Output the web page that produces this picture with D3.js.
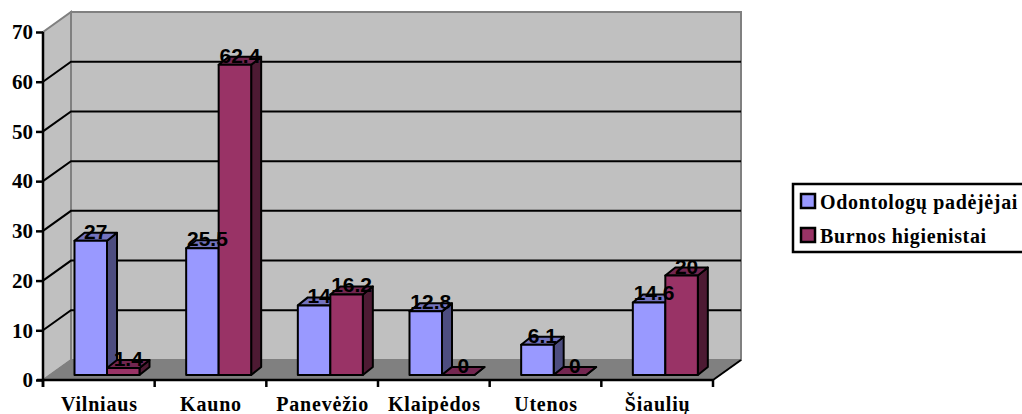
<!DOCTYPE html>
<html>
<head>
<meta charset="utf-8">
<script src="https://cdn.jsdelivr.net/npm/d3@7/dist/d3.min.js"></script>
<style>
html,body{margin:0;padding:0;background:#fff;overflow:hidden}
svg{display:block}
.serif{font-family:"Liberation Serif",serif;font-weight:bold}
.sans{font-family:"Liberation Sans",sans-serif;font-weight:bold}
</style>
</head>
<body>
<svg id="chart" width="1022" height="414"></svg>
<script>
const regions = ["Vilniaus","Kauno","Panevėžio","Klaipėdos","Utenos","Šiaulių"];
const assistants = [27,25.5,14,12.8,6.1,14.6];
const hygienists = [1.4,62.4,16.2,0,0,20];
const seriesNames = ["Odontologų padėjėjai","Burnos higienistai"];
const yTicks = [0,10,20,30,40,50,60,70];

const seriesColors = [
  {front:"#9999ff",top:"#7373bf",side:"#4d4d80"},
  {front:"#993366",top:"#732650",side:"#4d1a33"}
];

const svg = d3.select("#chart");
const plot = {left:43,right:713,bottom:380,top:32,dx:28,dy:-20};
const y = d3.scaleLinear().domain([0,70]).range([plot.bottom,plot.top]);
const x = d3.scaleBand().domain(regions).range([plot.left,plot.right]);
const barW = 32.5;
const depth = {start:[5,-5],end:[15,-13]};  // where bars sit inside the floor depth
const poly = pts => pts.map(p=>p.join(",")).join(" ");

// walls and floor
svg.append("polygon").attr("points",poly([[plot.left,plot.top],[plot.left+plot.dx,plot.top+plot.dy],[plot.left+plot.dx,plot.bottom+plot.dy],[plot.left,plot.bottom]]))
  .attr("fill","#c0c0c0").attr("stroke","#808080").attr("stroke-width",2);
svg.append("rect").attr("x",plot.left+plot.dx).attr("y",plot.top+plot.dy).attr("width",plot.right-plot.left).attr("height",plot.bottom-plot.top)
  .attr("fill","#c0c0c0").attr("stroke","#808080").attr("stroke-width",2);
svg.append("polygon").attr("points",poly([[plot.left,plot.bottom],[plot.left+plot.dx,plot.bottom+plot.dy],[plot.right+plot.dx,plot.bottom+plot.dy],[plot.right,plot.bottom]]))
  .attr("fill","#808080").attr("stroke","#808080");

// gridlines on both walls
yTicks.filter(t=>t>0 && t<70).forEach(t=>{
  const py=y(t);
  svg.append("polyline").attr("points",poly([[plot.left,py],[plot.left+plot.dx,py+plot.dy],[plot.right+plot.dx,py+plot.dy]]))
    .attr("fill","none").attr("stroke","#000").attr("stroke-width",2);
});
svg.append("line").attr("x1",plot.left).attr("y1",plot.bottom).attr("x2",plot.left+plot.dx).attr("y2",plot.bottom+plot.dy).attr("stroke","#808080").attr("stroke-width",1);

// bars
const labels=[];
regions.forEach((r,i)=>{
  [assistants[i],hygienists[i]].forEach((v,s)=>{
    const c=seriesColors[s];
    const x0=x(r)+31.5+s*barW, x1=x0+barW;
    const dx=depth.end[0]-depth.start[0], dy=depth.end[1]-depth.start[1];
    const yb=y(0)+depth.start[1], yt=y(v)+depth.start[1];
    const g=svg.append("g").attr("stroke","#000").attr("stroke-width",2).attr("stroke-linejoin","round");
    g.append("polygon").attr("points",poly([[x1,yt],[x1+dx,yt+dy],[x1+dx,yb+dy],[x1,yb]])).attr("fill",c.side);
    g.append("polygon").attr("points",poly([[x0,yt],[x0+dx,yt+dy],[x1+dx,yt+dy],[x1,yt]])).attr("fill",c.top);
    g.append("rect").attr("x",x0).attr("y",yt).attr("width",barW).attr("height",yb-yt).attr("fill",c.front);
    labels.push({v,x:(x0+x1)/2+dx/2,y:yt-2});
  });
});

// axes in front
svg.append("line").attr("x1",plot.left).attr("x2",plot.left).attr("y1",plot.top).attr("y2",plot.bottom+7).attr("stroke","#000").attr("stroke-width",2.5);
svg.append("line").attr("x1",plot.left-6).attr("x2",plot.right).attr("y1",plot.bottom).attr("y2",plot.bottom).attr("stroke","#000").attr("stroke-width",2.5);
svg.append("line").attr("x1",plot.right).attr("y1",plot.bottom).attr("x2",plot.right+plot.dx).attr("y2",plot.bottom+plot.dy).attr("stroke","#000").attr("stroke-width",2);

const yAxis=d3.axisLeft(y).tickValues(yTicks).tickSize(7).tickPadding(3);
const ya=svg.append("g").attr("transform",`translate(${plot.left},0)`).call(yAxis);
ya.select(".domain").remove();
ya.selectAll("line").attr("stroke","#000").attr("stroke-width",2.5);
ya.selectAll("text").attr("class","serif").attr("font-size",21).attr("fill","#000").attr("font-family",null);

// category ticks fall on band edges
regions.concat([null]).forEach((r,i)=>{
  const tx=r?x(r):plot.right;
  svg.append("line").attr("x1",tx).attr("x2",tx).attr("y1",plot.bottom).attr("y2",plot.bottom+7).attr("stroke","#000").attr("stroke-width",2.5);
});
svg.append("g").selectAll("text").data(regions).join("text").attr("class","serif")
  .attr("x",d=>x(d)+x.bandwidth()/2+0.5).attr("y",411).attr("text-anchor","middle").attr("font-size",20).attr("letter-spacing",0.8).attr("fill","#000").text(d=>d);

// value labels
svg.append("g").selectAll("text").data(labels).join("text").attr("class","sans")
  .attr("x",d=>d.x).attr("y",d=>d.y).attr("text-anchor","middle").attr("font-size",21).attr("fill","#000").text(d=>d.v);

// legend
const lg=svg.append("g");
lg.append("rect").attr("x",793).attr("y",184).attr("width",232).attr("height",68).attr("fill","#fff").attr("stroke","#000").attr("stroke-width",2.5);
seriesNames.forEach((n,i)=>{
  const ly=203+i*34;
  lg.append("rect").attr("x",801).attr("y",ly-9).attr("width",14).attr("height",14).attr("fill",seriesColors[i].front).attr("stroke","#000").attr("stroke-width",2.5);
  lg.append("text").attr("class","serif").attr("x",820).attr("y",ly+6).attr("font-size",20).attr("letter-spacing",0.65).attr("fill","#000").text(n);
});
</script>
</body>
</html>
